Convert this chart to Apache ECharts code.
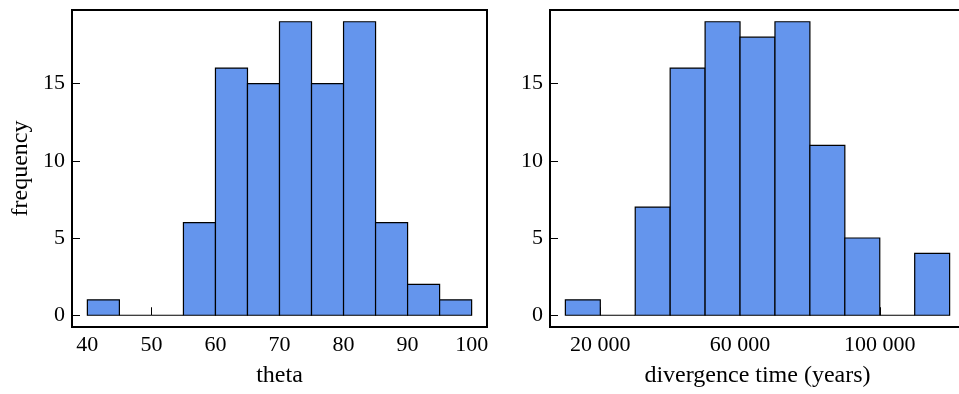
<!DOCTYPE html>
<html>
<head>
<meta charset="utf-8">
<script src="https://cdn.jsdelivr.net/npm/echarts@6/dist/echarts.min.js"></script>
<style>html,body{margin:0;padding:0;background:#fff;}#c{width:959px;height:394px;}</style>
</head>
<body>
<div id="c"></div>
<script>
// Left histogram: theta
const thetaBinStarts = [40, 45, 50, 55, 60, 65, 70, 75, 80, 85, 90, 95];
const thetaBinWidth = 5;
const thetaCounts = [1, 0, 0, 6, 16, 15, 19, 15, 19, 6, 2, 1];
const thetaTicks = [40, 50, 60, 70, 80, 90, 100];

// Right histogram: divergence time
const divBinStarts = [10000, 20000, 30000, 40000, 50000, 60000, 70000, 80000, 90000, 100000, 110000];
const divBinWidth = 10000;
const divCounts = [1, 0, 7, 16, 19, 18, 19, 11, 5, 0, 4];
const divTicks = [20000, 40000, 60000, 80000, 100000, 120000];
const divTickLabels = [20000, 60000, 100000];

const yTicks = [0, 5, 10, 15];

const FONT = '"Liberation Serif", "DejaVu Serif", serif';
const FS = 22;
const NFS = 24;

function histData(starts, width, counts) {
  return starts.map((s, i) => [s, s + width, counts[i]]);
}

function renderHist(params, api) {
  const p0 = api.coord([api.value(0), 0]);
  const p1 = api.coord([api.value(1), api.value(2)]);
  return {
    type: 'rect',
    shape: { x: p0[0], y: p1[1], width: p1[0] - p0[0], height: p0[1] - p1[1] },
    style: { fill: '#6495ED', stroke: '#000', lineWidth: 1.2 }
  };
}

function fmtThousands(v) {
  return String(v).replace(/\B(?=(\d{3})+(?!\d))/g, ' ');
}

const chart = echarts.init(document.getElementById('c'), null, { renderer: 'canvas' });

const axisCommon = {
  axisLine: { show: false },
  splitLine: { show: false },
  axisTick: { show: true, inside: true, length: 8, lineStyle: { color: '#000', width: 1 } },
  axisLabel: { color: '#000', fontFamily: FONT, fontSize: FS, margin: 7 },
  nameTextStyle: { color: '#000', fontFamily: FONT, fontSize: NFS },
  nameLocation: 'middle'
};

function yAxis(gridIndex, withName) {
  return Object.assign({}, axisCommon, {
    type: 'value', gridIndex: gridIndex,
    min: -0.76, max: 19.76,
    name: withName ? 'frequency' : '',
    nameGap: 39,
    axisTick: Object.assign({}, axisCommon.axisTick, { customValues: yTicks }),
    axisLabel: Object.assign({}, axisCommon.axisLabel, { customValues: yTicks })
  });
}

chart.setOption({
  animation: false,
  backgroundColor: '#fff',
  grid: [
    { left: 72, top: 10, width: 415, height: 317, show: true, borderColor: '#000', borderWidth: 2, backgroundColor: 'transparent', containLabel: false, outerBoundsMode: 'none' },
    { left: 550, top: 10, width: 415, height: 317, show: true, borderColor: '#000', borderWidth: 2, backgroundColor: 'transparent', containLabel: false, outerBoundsMode: 'none' }
  ],
  xAxis: [
    Object.assign({}, axisCommon, {
      type: 'value', gridIndex: 0, min: 37.6, max: 102.4,
      name: 'theta', nameGap: 37,
      axisTick: Object.assign({}, axisCommon.axisTick, { customValues: thetaTicks }),
      axisLabel: Object.assign({}, axisCommon.axisLabel, { customValues: thetaTicks })
    }),
    Object.assign({}, axisCommon, {
      type: 'value', gridIndex: 1, min: 5600, max: 124400,
      name: 'divergence time (years)', nameGap: 37,
      axisTick: Object.assign({}, axisCommon.axisTick, { customValues: divTicks }),
      axisLabel: Object.assign({}, axisCommon.axisLabel, { customValues: divTickLabels, formatter: fmtThousands })
    })
  ],
  yAxis: [yAxis(0, true), yAxis(1, false)],
  series: [
    { type: 'custom', xAxisIndex: 0, yAxisIndex: 0, renderItem: renderHist, data: histData(thetaBinStarts, thetaBinWidth, thetaCounts), encode: { x: [0, 1], y: 2 } },
    { type: 'custom', xAxisIndex: 1, yAxisIndex: 1, renderItem: renderHist, data: histData(divBinStarts, divBinWidth, divCounts), encode: { x: [0, 1], y: 2 } }
  ]
});
</script>
</body>
</html>
